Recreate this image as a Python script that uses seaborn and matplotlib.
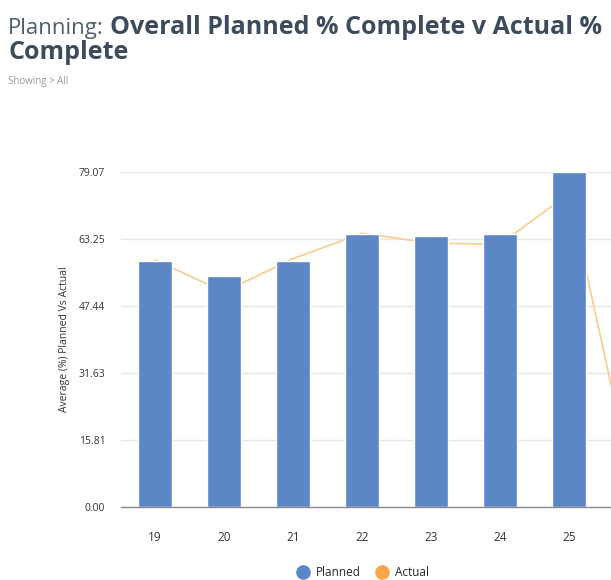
import numpy as np
import pandas as pd
import matplotlib
matplotlib.use("Agg")
import matplotlib.pyplot as plt
from matplotlib.lines import Line2D
import seaborn as sns

weeks = [19, 20, 21, 22, 23, 24, 25, 26]
planned = [58.1, 54.5, 58.1, 64.4, 64.0, 64.4, 79.07, 75.0]
actual = [58.3, 50.8, 58.6, 64.6, 62.3, 62.0, 74.0, 0.0]
y_ticks = [0.00, 15.81, 31.63, 47.44, 63.25, 79.07]

blue = "#5b87c7"
orange = "#f5a84b"

df = pd.DataFrame({"week": weeks, "planned": planned, "actual": actual})

sns.set_theme(style="white")
plt.rcParams["font.family"] = ["Open Sans", "DejaVu Sans"]

fig = plt.figure(figsize=(6.11, 5.8), dpi=100)
W, H = 611, 580
# axes deliberately runs off the right edge, as in the cropped original
ax = fig.add_axes([120.5 / W, (H - 507) / H, len(weeks) * 69 / W, 335 / H])

sns.pointplot(data=df, x="week", y="actual", ax=ax, color="#f8cf96",
              markers="", markersize=0, linewidth=1.3, errorbar=None, zorder=1)
sns.barplot(data=df, x="week", y="planned", ax=ax, color=blue, width=0.5,
            saturation=1, zorder=2)

ax.set_ylim(0, 79.07)
ax.set_xlim(-0.5, len(weeks) - 0.5)
ax.set_yticks(y_ticks)
ax.set_yticklabels([f"{v:.2f}" for v in y_ticks])
# last week's label falls outside the cropped picture
ax.set_xticks(range(len(weeks)))
ax.set_xticklabels([str(w) for w in weeks[:-1]] + [""])
ax.yaxis.grid(True, color="#e6e6e6", linewidth=1)
ax.set_axisbelow(True)
for s in ["top", "right", "left"]:
    ax.spines[s].set_visible(False)
ax.spines["bottom"].set_color("#8a8a8a")
ax.spines["bottom"].set_linewidth(1)

ax.set_xticks(np.arange(len(weeks)) + 0.5, minor=True)
ax.tick_params(axis="x", which="major", length=0, pad=17, labelsize=8.5, labelcolor="#333333")
ax.tick_params(axis="x", which="minor", length=5, width=1, color="#555555", direction="out")
ax.tick_params(axis="y", length=0, pad=11, labelsize=7.5, labelcolor="#333333")

ax.set_xlabel("")
ax.set_ylabel("Average (%) Planned Vs Actual", fontsize=7.5, color="#333333", labelpad=6)

fig.text(8 / W, 1 - 34 / H, "Planning:", fontsize=16, color="#4f5d6c", ha="left", va="baseline")
fig.text(110 / W, 1 - 34 / H, "Overall Planned % Complete v Actual %", fontsize=18,
         fontweight="bold", color="#3d4b5c", ha="left", va="baseline")
fig.text(8 / W, 1 - 59 / H, "Complete", fontsize=18, fontweight="bold",
         color="#3d4b5c", ha="left", va="baseline")
fig.text(8 / W, 1 - 84 / H, "Showing > All", fontsize=7, color="#9a9a9a", ha="left", va="baseline")

handles = [
    Line2D([], [], marker="o", linestyle="", markersize=9.5, color=blue, label="Planned"),
    Line2D([], [], marker="o", linestyle="", markersize=9.5, color=orange, label="Actual"),
]
fig.legend(handles=handles, loc="center", bbox_to_anchor=(360 / W, 1 - 573 / H), ncol=2,
           frameon=False, fontsize=8.5, handletextpad=0.1, columnspacing=0.8)

fig.savefig("out.png", dpi=100)
